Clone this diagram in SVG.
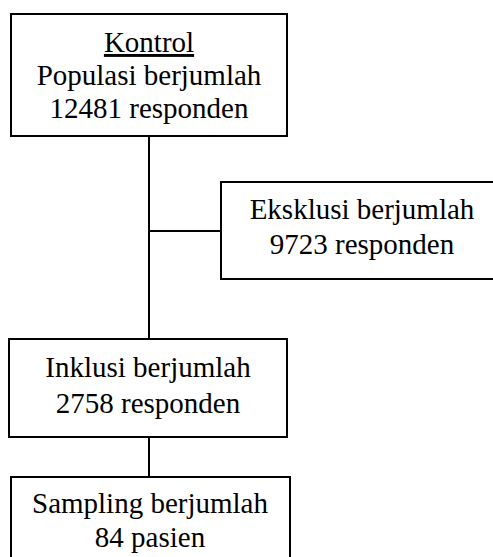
<svg xmlns="http://www.w3.org/2000/svg" width="493" height="557" viewBox="0 0 493 557">
  <style>
    .box { fill: #ffffff; stroke: #000000; stroke-width: 2; }
    .lbl { font-family: "Liberation Serif", "Times New Roman", serif; font-size: 29px; fill: #000000; text-anchor: middle; }
    .link { stroke: #000000; stroke-width: 2; fill: none; }
  </style>
  <rect width="493" height="557" fill="#ffffff"/>

  <!-- connectors -->
  <g id="connectors">
    <line class="link" x1="149" y1="136" x2="149" y2="339"/>
    <line class="link" x1="149" y1="231" x2="221" y2="231"/>
    <line class="link" x1="149" y1="437" x2="149" y2="477"/>
  </g>

  <g id="kontrol">
    <rect class="box" x="11" y="14" width="276" height="122"/>
    <text class="lbl" x="149" y="52" text-decoration="underline">Kontrol</text>
    <text class="lbl" x="149" y="85">Populasi berjumlah</text>
    <text class="lbl" x="149" y="118">12481 responden</text>
  </g>

  <g id="eksklusi">
    <rect class="box" x="221" y="182" width="290" height="97"/>
    <text class="lbl" x="362" y="219">Eksklusi berjumlah</text>
    <text class="lbl" x="362" y="254">9723 responden</text>
  </g>

  <g id="inklusi">
    <rect class="box" x="9" y="339" width="278" height="98"/>
    <text class="lbl" x="148" y="377">Inklusi berjumlah</text>
    <text class="lbl" x="148" y="413">2758 responden</text>
  </g>

  <g id="sampling">
    <rect class="box" x="11" y="477" width="279" height="100"/>
    <text class="lbl" x="150" y="513">Sampling berjumlah</text>
    <text class="lbl" x="150" y="547">84 pasien</text>
  </g>
</svg>
